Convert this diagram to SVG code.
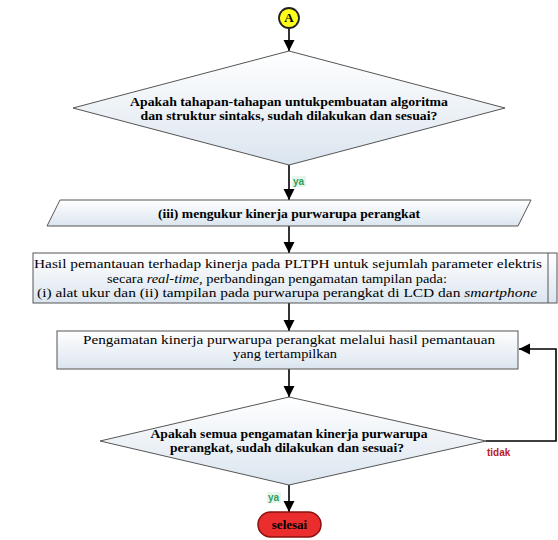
<svg xmlns="http://www.w3.org/2000/svg" width="558" height="540" viewBox="0 0 558 540">
<defs>
<linearGradient id="g" x1="0" y1="0" x2="0" y2="1">
<stop offset="0" stop-color="#ffffff"/>
<stop offset="1" stop-color="#dbe5ef"/>
</linearGradient>
<marker id="ah" markerWidth="12" markerHeight="12" refX="11" refY="5.5" orient="auto" markerUnits="userSpaceOnUse">
<path d="M0,0 L11,5.5 L0,11 Z" fill="#000"/>
</marker>
<style>
.sh{fill:url(#g);stroke:#555;stroke-width:1}
.b{font-family:'Liberation Serif','DejaVu Serif','Noto Serif',serif;font-weight:bold;font-size:13px;fill:#000;text-anchor:middle}
.r{font-family:'Liberation Serif','DejaVu Serif','Noto Serif',serif;font-size:13px;fill:#000;text-anchor:middle}
.c{fill:none;stroke:#000;stroke-width:1.6}
.lbl{font-family:'Liberation Sans',Arial,sans-serif;font-weight:bold;font-size:10px}
</style>
</defs>
<rect width="558" height="540" fill="#fff"/>
<g id="connectors">
<line class="c" x1="289" y1="28" x2="289" y2="51" marker-end="url(#ah)"/>
<line class="c" x1="289" y1="165" x2="289" y2="200" marker-end="url(#ah)"/>
<line class="c" x1="289" y1="226" x2="289" y2="253" marker-end="url(#ah)"/>
<line class="c" x1="289" y1="303" x2="289" y2="331" marker-end="url(#ah)"/>
<line class="c" x1="289" y1="369" x2="289" y2="397" marker-end="url(#ah)"/>
<polyline class="c" points="486,441 556,441 556,349 519,349" marker-end="url(#ah)"/>
<line class="c" x1="289" y1="485" x2="289" y2="512" marker-end="url(#ah)"/>
<rect x="292" y="176" width="14" height="11" fill="#e8f5ec"/>
<text class="lbl" x="293" y="185" fill="#2e9e5a">ya</text>
<text class="lbl" x="487" y="456" fill="#c0181f" font-size="11">tidak</text>
<rect x="267" y="492" width="14" height="11" fill="#e8f5ec"/>
<text class="lbl" x="268" y="501" fill="#2e9e5a">ya</text>
</g>
<g id="start-a">
<circle cx="289" cy="18" r="10" fill="#ffff1a" stroke="#222" stroke-width="1.8"/>
<text class="b" x="289" y="22" font-size="11" font-family="Liberation Serif, DejaVu Serif, serif">A</text>
</g>
<g id="decision1">
<polygon class="sh" points="289,51 505,108 289,165 73,108"/>
<text class="b" x="289" y="106" textLength="318" lengthAdjust="spacingAndGlyphs" font-family="Liberation Serif, DejaVu Serif, serif">Apakah tahapan-tahapan untukpembuatan algoritma</text>
<text class="b" x="289" y="120" textLength="297" lengthAdjust="spacingAndGlyphs" font-family="Liberation Serif, DejaVu Serif, serif">dan struktur sintaks, sudah dilakukan dan sesuai?</text>
</g>
<g id="io1">
<polygon class="sh" points="60,200 531,200 518,226 47,226"/>
<text class="b" x="289" y="218" textLength="262" lengthAdjust="spacingAndGlyphs" font-family="Liberation Serif, DejaVu Serif, serif">(iii) mengukur kinerja purwarupa perangkat</text>
</g>
<g id="process1">
<rect class="sh" x="33" y="253" width="524" height="50"/>
<line x1="548" y1="253" x2="548" y2="303" stroke="#555"/>
<text class="r" x="288" y="268" textLength="508" lengthAdjust="spacingAndGlyphs" font-family="Liberation Serif, DejaVu Serif, serif">Hasil pemantauan terhadap kinerja pada PLTPH untuk sejumlah parameter elektris</text>
<text class="r" x="277" y="283" textLength="340" lengthAdjust="spacingAndGlyphs" font-family="Liberation Serif, DejaVu Serif, serif">secara <tspan font-style="italic">real-time</tspan>, perbandingan pengamatan tampilan pada:</text>
<text class="r" x="287" y="297" textLength="500" lengthAdjust="spacingAndGlyphs" font-family="Liberation Serif, DejaVu Serif, serif">(i) alat ukur dan (ii) tampilan pada purwarupa perangkat di LCD dan <tspan font-style="italic">smartphone</tspan></text>
</g>
<g id="process2">
<rect class="sh" x="57" y="331" width="461" height="38"/>
<text class="r" x="289" y="344" textLength="412" lengthAdjust="spacingAndGlyphs" font-family="Liberation Serif, DejaVu Serif, serif">Pengamatan kinerja purwarupa perangkat melalui hasil pemantauan</text>
<text class="r" x="285" y="358" textLength="104" lengthAdjust="spacingAndGlyphs" font-family="Liberation Serif, DejaVu Serif, serif">yang tertampilkan</text>
</g>
<g id="decision2">
<polygon class="sh" points="289,397 486,441 289,485 100,441"/>
<text class="b" x="289" y="438" textLength="277" lengthAdjust="spacingAndGlyphs" font-family="Liberation Serif, DejaVu Serif, serif">Apakah semua pengamatan kinerja purwarupa</text>
<text class="b" x="287" y="452" textLength="234" lengthAdjust="spacingAndGlyphs" font-family="Liberation Serif, DejaVu Serif, serif">perangkat, sudah dilakukan dan sesuai?</text>
</g>
<g id="end">
<rect x="258" y="512" width="63" height="25" rx="12.5" fill="#ea2e2e" stroke="#8a1010" stroke-width="1.5"/>
<text class="b" x="289.5" y="529" font-size="14" fill="#1a0000" font-family="Liberation Serif, DejaVu Serif, serif">selesai</text>
</g>
</svg>
